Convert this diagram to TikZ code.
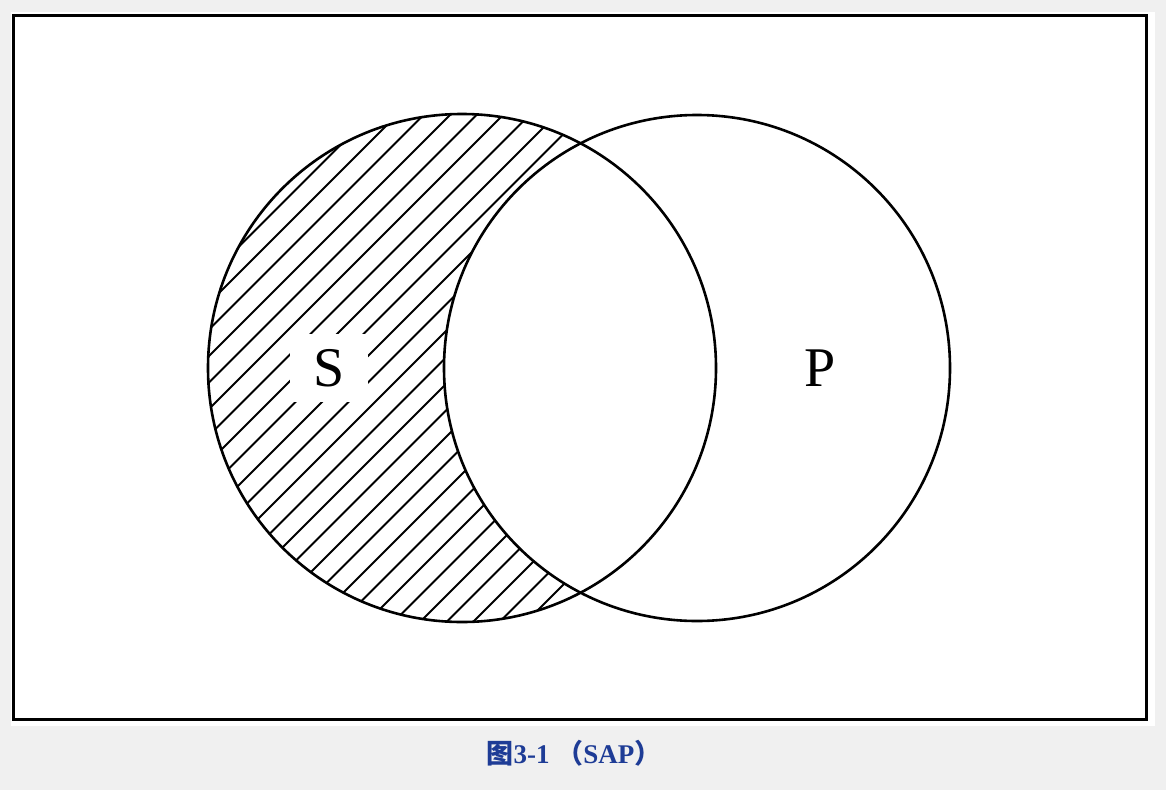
\documentclass[tikz,border=0pt]{standalone}
\usepackage{fontspec}
\setmainfont{Liberation Serif}
\newfontfamily\cjk{Noto Sans CJK SC}
\definecolor{page_gray}{RGB}{240,240,240}
\definecolor{cap_blue}{RGB}{30,60,150}
\tikzstyle{setline}=[draw=black,line width=2.6pt]
\tikzstyle{hatch}=[draw=black,line width=1.8pt]
\tikzstyle{setname}=[inner sep=0pt,minimum width=78pt,minimum height=68pt,
  font=\fontsize{56}{56}\selectfont]
\tikzstyle{caption}=[text=cap_blue,inner sep=0pt,font=\bfseries\fontsize{27}{27}\selectfont]
\begin{document}
\begin{tikzpicture}[x=1pt,y=-1pt]
    \fill[page_gray] (0,0) rectangle (1166,790);
    \useasboundingbox (0,0) rectangle (1166,790);
    \fill[white] (11,12) rectangle (1155,726);
    \draw[line width=3pt] (13,15) rectangle (1146,719);
    \coordinate (Sc) at (462,368);
    \coordinate (Pc) at (697,368);
    % hatching of S outside P
    \begin{scope}
        \clip (Sc) circle (254);
        \foreach \x in {-360,-333.5,...,740}
            \draw[hatch] (\x,660) -- ++(-45:900);
    \end{scope}
    \fill[white] (Pc) circle (253);
    \draw[setline] (Sc) circle (254);
    \draw[setline] (Pc) circle (253);
    \node [style=setname,fill=white] (S) at (329,368) {S};
    \node [style=setname] (P) at (820,368) {P};
    \node [style=caption] (cap) at (574,753) {{\cjk 图}3-1 {\cjk （}SAP{\cjk ）}};
\end{tikzpicture}
\end{document}
